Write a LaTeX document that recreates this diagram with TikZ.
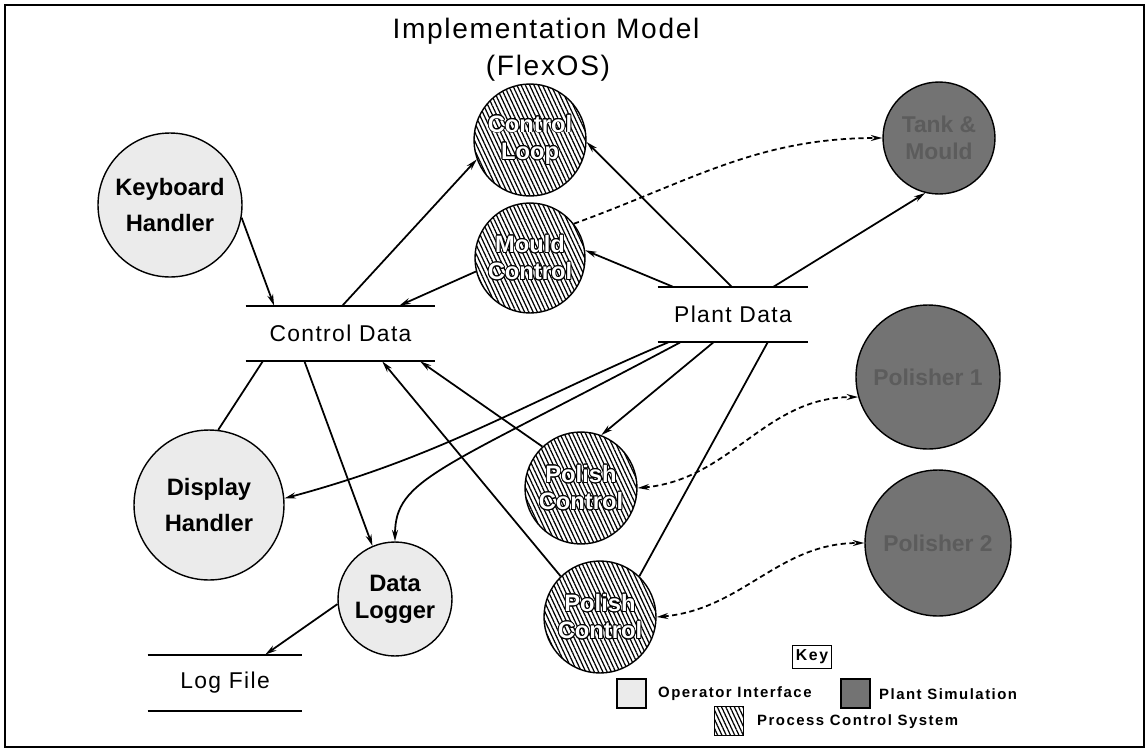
\documentclass[tikz,border=0pt]{standalone}
\usepackage{fontspec}
\setmainfont{Liberation Sans}
\newfontfamily\titlefont[LetterSpace=6]{Liberation Sans}
\newfontfamily\storefont[LetterSpace=6]{Liberation Sans}
\newfontfamily\keyfont[LetterSpace=10]{Liberation Sans}
\usepackage[copies]{contour}
\contourlength{0.45pt}
\usetikzlibrary{calc,arrows.meta,patterns.meta}

\definecolor{opgray}{gray}{0.92}
\definecolor{simgray}{gray}{0.45}
\definecolor{simtext}{gray}{0.36}

\newcommand{\outl}[1]{\contour{black}{#1}}

\tikzset{
  proc/.style={circle, draw, line width=0.8pt, inner sep=0pt, align=center},
  opint/.style={proc, fill=opgray, font=\bfseries\fontsize{13.5}{21}\selectfont},
  pcs/.style={proc, pattern={Lines[angle=-65,distance=2.2pt,line width=0.7pt]},
    text=white, font=\bfseries\fontsize{13.5}{15.5}\selectfont},
  plantsim/.style={proc, fill=simgray, text=simtext, font=\bfseries\fontsize{13}{15.5}\selectfont},
  store/.style={inner sep=0pt, minimum height=1.1cm, font=\storefont\fontsize{13}{15}\selectfont},
  flow/.style={->, line width=1pt},
  sim/.style={line width=1pt, dash pattern=on 3pt off 2pt},
  keytxt/.style={anchor=west, font=\keyfont\bfseries\fontsize{8.5}{10}\selectfont},
}

\begin{document}
\begin{tikzpicture}[x=0.02cm, y=0.02cm, >={Stealth[length=6.5pt,width=3.4pt]}]
  \useasboundingbox (0,0) rectangle (1147,-751);
  \draw[line width=1.2pt] (5,-5) rectangle (1144,-747);

  \node[font=\titlefont\fontsize{16}{18}\selectfont] (title) at (546,-31) {Implementation Model};
  \node[font=\titlefont\fontsize{16}{18}\selectfont] (flexos) at (548,-68) {(FlexOS)};

  % operator interface
  \node[opint, minimum size=2.88cm] (kh) at (170,-205) {Keyboard\\Handler};
  \node[opint, minimum size=3cm, font=\bfseries\fontsize{13.5}{20}\selectfont] (dh) at (209,-505) {Display\\Handler};
  \node[opint, minimum size=2.28cm, font=\bfseries\fontsize{13.5}{15.5}\selectfont] (dl) at (395,-599) {Data\\Logger};

  % process control system
  \node[pcs, minimum size=2.24cm] (cl) at (530,-140) {\outl{Control}\\\outl{Loop}};
  \node[pcs, minimum size=2.2cm] (mc) at (530,-258) {\outl{Mould}\\\outl{Control}};
  \node[pcs, minimum size=2.24cm] (pc1) at (581,-488) {\outl{Polish}\\\outl{Control}};
  \node[pcs, minimum size=2.24cm] (pc2) at (600,-617) {\outl{Polish}\\\outl{Control}};

  % plant simulation
  \node[plantsim, minimum size=2.24cm] (tm) at (939,-138) {Tank \&\\Mould};
  \node[plantsim, minimum size=2.88cm] (p1) at (928,-377) {Polisher 1};
  \node[plantsim, minimum size=2.92cm] (p2) at (938,-543) {Polisher 2};

  % data stores
  \node[store, minimum width=3.78cm] (cd) at (340.5,-333.5) {Control Data};
  \node[store, minimum width=3cm] (pd) at (733,-314.5) {Plant Data};
  \node[store, minimum width=3.08cm, minimum height=1.12cm] (lf) at (225,-683) {Log File};
  \foreach \s in {cd,pd,lf}
    \draw[line width=1pt] (\s.north west) -- (\s.north east) (\s.south west) -- (\s.south east);

  % flows
  \draw[flow] (kh.-10) -- ($(cd.north west)!0.15!(cd.north east)$);
  \draw[flow] ($(cd.north west)!0.51!(cd.north east)$) -- (cl.200);
  \draw[flow] (mc.194) -- ($(cd.north west)!0.81!(cd.north east)$);
  \draw[flow] ($(pd.north west)!0.49!(pd.north east)$) -- (cl.-2);
  \draw[flow] ($(pd.north west)!0.10!(pd.north east)$) -- (mc.8);
  \draw[flow] ($(pd.north west)!0.77!(pd.north east)$) -- (tm.256);
  \draw[line width=1pt] ($(cd.south west)!0.09!(cd.south east)$) -- (dh.83);
  \draw[flow] ($(cd.south west)!0.31!(cd.south east)$) -- (dl.113);
  \draw[flow] (pc2.134) -- ($(cd.south west)!0.72!(cd.south east)$);
  \draw[flow] (pc1.133) -- ($(cd.south west)!0.92!(cd.south east)$);
  \draw[flow] ($(pd.south west)!0.07!(pd.south east)$) to[out=203,in=15] (dh.5);
  \draw[flow] ($(pd.south west)!0.15!(pd.south east)$) .. controls +(-240,-128) and +(0,63) .. (dl.north);
  \draw[flow] ($(pd.south west)!0.37!(pd.south east)$) -- (pc1.69);
  \draw[line width=1pt] ($(pd.south west)!0.73!(pd.south east)$) -- (pc2.46);
  \draw[flow] (dl.185) -- ($(lf.north west)!0.76!(lf.north east)$);

  % simulation links
  \draw[sim, ->] (mc.38) to[out=20,in=180] (tm.west);
  \draw[sim, <->] (pc1.east) to[out=5,in=180] (p1.196);
  \draw[sim, <->] (pc2.east) to[out=5,in=180] (p2.west);

  % key
  \node[draw, line width=0.8pt, inner sep=1pt, minimum width=0.78cm, minimum height=0.46cm,
    font=\keyfont\bfseries\fontsize{9}{10}\selectfont] (key) at (812,-657) {Key};
  \node[draw, line width=0.7pt, fill=opgray, minimum size=0.58cm] (kop) at (631.5,-693.5) {};
  \node[keytxt] (kopt) at (652,-694) {Operator Interface};
  \node[draw, line width=0.7pt, fill=simgray, minimum size=0.58cm] (ksim) at (855.5,-693.5) {};
  \node[keytxt] (ksimt) at (873,-694) {Plant Simulation};
  \node[draw, line width=0.7pt, minimum size=0.58cm,
    pattern={Lines[angle=-65,distance=2.2pt,line width=0.7pt]}] (kpcs) at (729,-721) {};
  \node[keytxt] (kpcst) at (751,-722) {Process Control System};
\end{tikzpicture}
\end{document}
